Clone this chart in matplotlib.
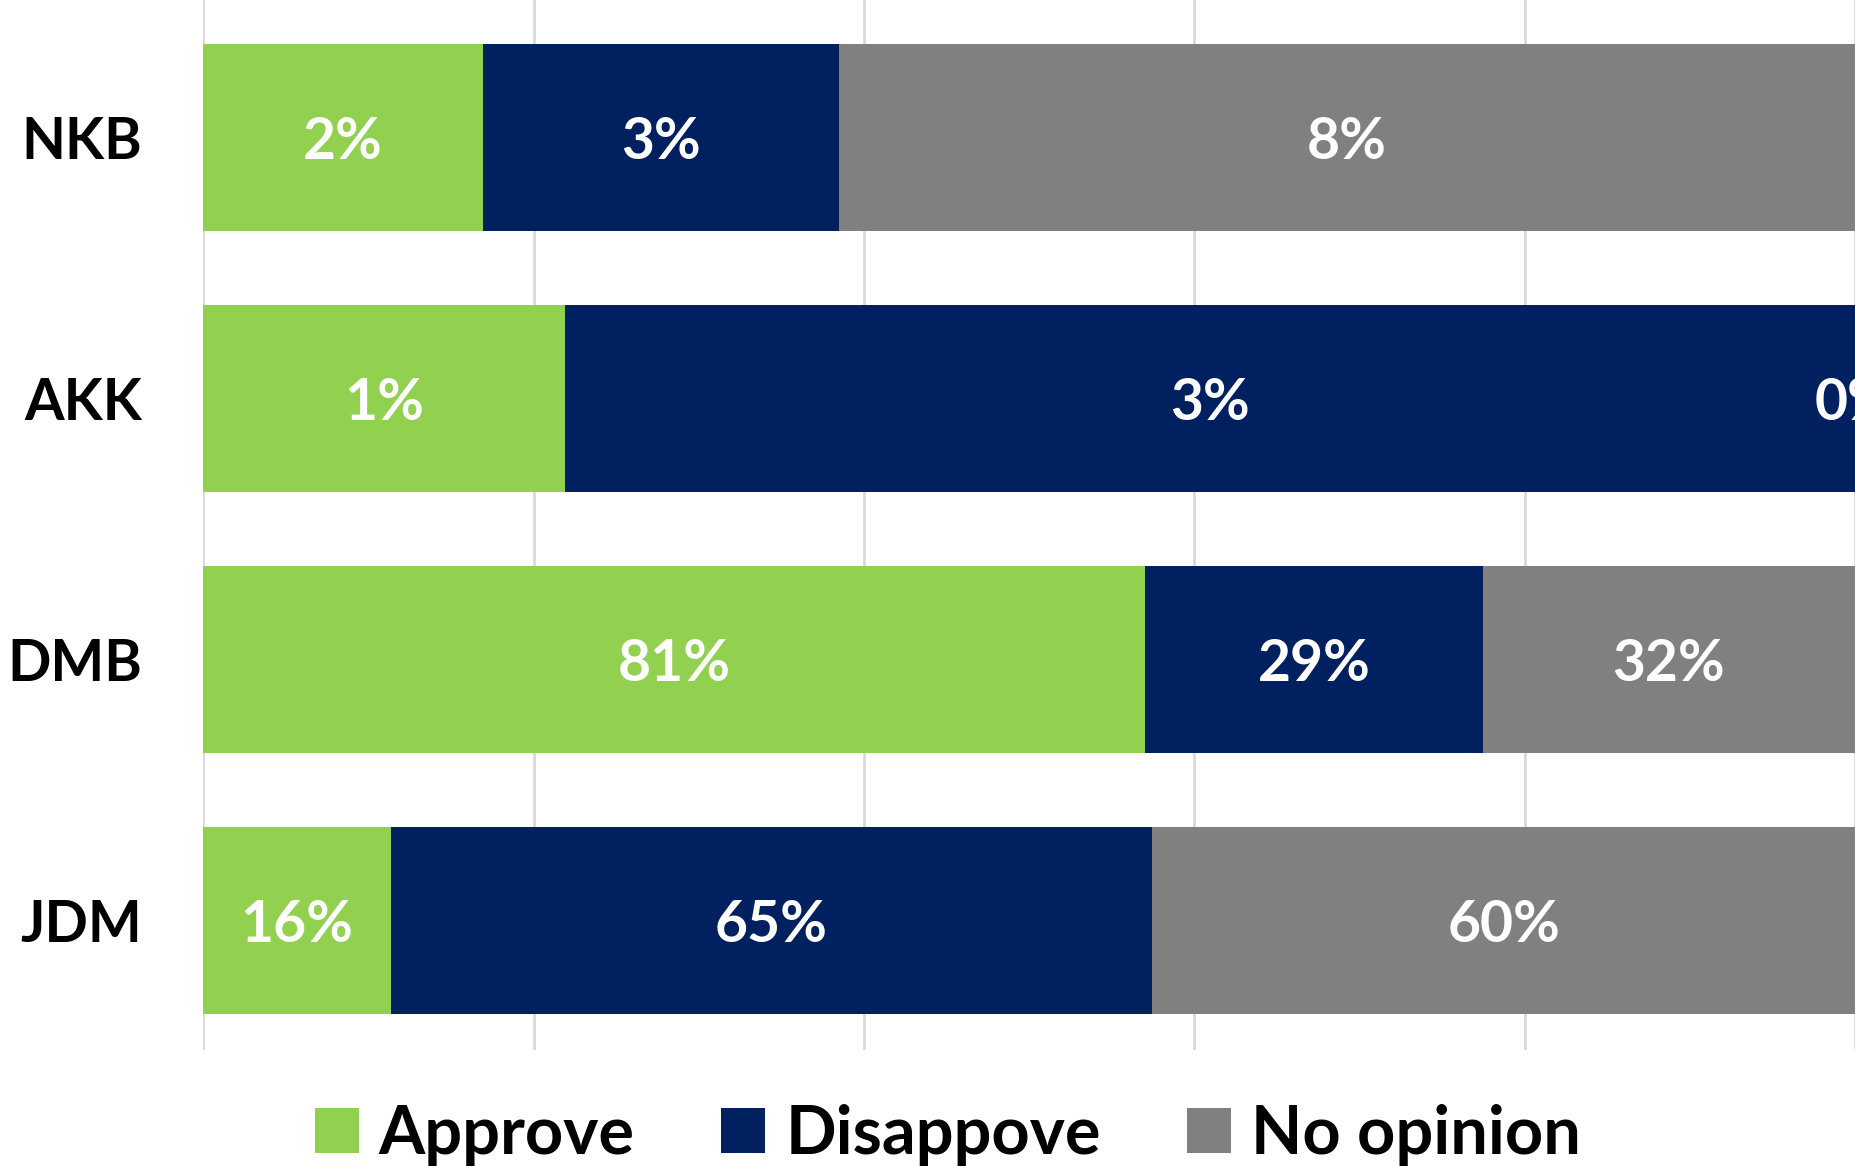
import numpy as np
import matplotlib
matplotlib.use("Agg")
import matplotlib.pyplot as plt

plt.rcParams['font.family'] = ['Lato', 'DejaVu Sans']

categories = ['NKB', 'AKK', 'DMB', 'JDM']
approve = [2.2, 0.84, 81, 16]
disapprove = [2.8, 3.0, 29, 65]
no_opinion = [8.0, 0.0, 32, 60]

series = [('Approve', approve, '#92D050'),
          ('Disappove', disapprove, '#002060'),
          ('No opinion', no_opinion, '#808080')]

totals = np.array(approve) + np.array(disapprove) + np.array(no_opinion)

fig = plt.figure(figsize=(18.55, 11.66), dpi=100)
ax = fig.add_axes([0.1096, 0.0995, 0.8904, 0.9005])

y = np.arange(len(categories))
left = np.zeros(len(categories))
for name, vals, color in series:
    vals = np.array(vals, dtype=float)
    share = vals / totals
    ax.barh(y, share, left=left, height=0.716, color=color, label=name)
    for i in range(len(categories)):
        ax.text(left[i] + share[i] / 2, y[i], f"{vals[i]:.0f}%",
                ha='center', va='center_baseline', color='white',
                fontsize=41, fontweight='bold', clip_on=False)
    left += share

ax.set_xlim(0, 1)
ax.set_ylim(3.496, -0.525)
ax.set_xticks(np.arange(0, 1.01, 0.2))
ax.set_xticklabels([])
ax.xaxis.grid(True, color='#D9D9D9', linewidth=2)
ax.set_axisbelow(True)
ax.set_yticks(y)
ax.set_yticklabels(categories, fontsize=41, fontweight='bold')
ax.tick_params(axis='both', length=0)
ax.tick_params(axis='y', pad=44)
for s in ax.spines.values():
    s.set_visible(False)

fig.legend(loc='center', bbox_to_anchor=(0.511, 0.027), ncol=3, frameon=False,
           prop={'size': 48, 'weight': 'bold'}, handlelength=0.66,
           handleheight=0.66, handletextpad=0.3, columnspacing=1.3)

fig.savefig('out.png', dpi=100)
